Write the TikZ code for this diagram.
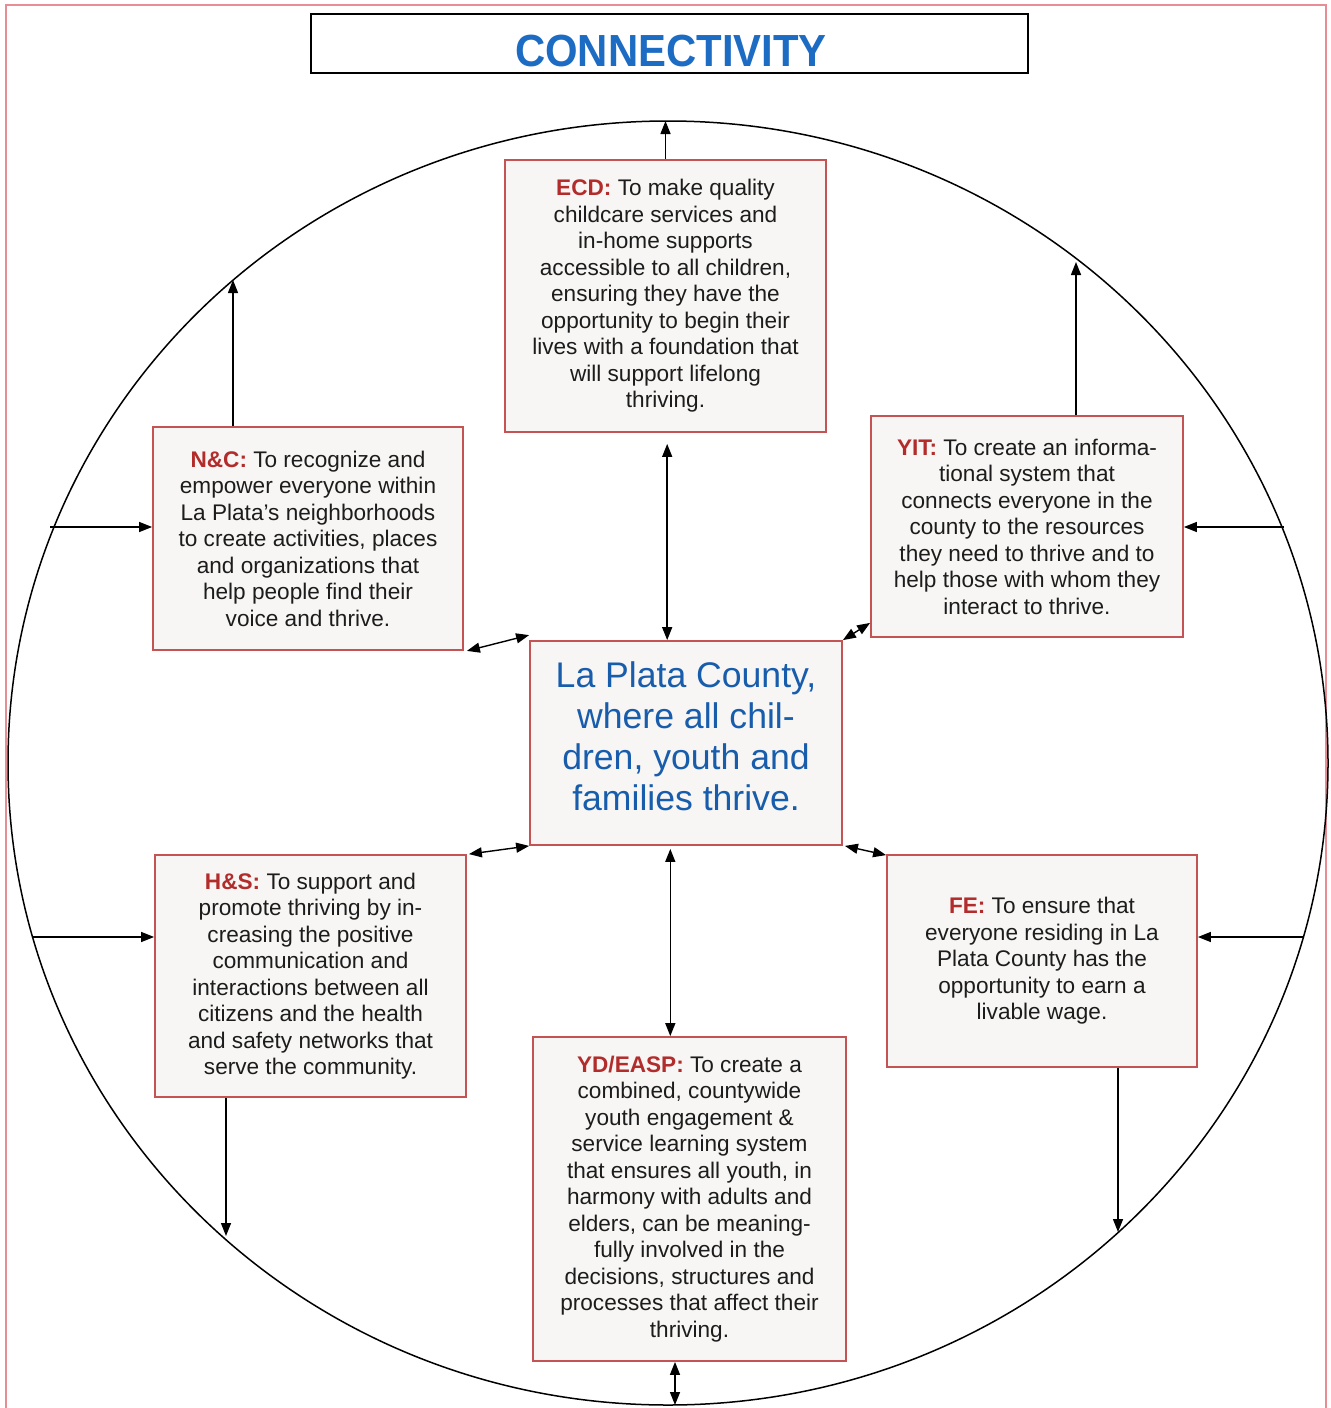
\documentclass[tikz,border=0pt]{standalone}
\usepackage{fontspec}
\setmainfont{Liberation Sans}
\usetikzlibrary{arrows.meta,calc}
\definecolor{boxred}{RGB}{196,84,84}
\definecolor{labred}{RGB}{178,44,44}
\definecolor{boxfill}{RGB}{247,246,244}
\definecolor{ctrblue}{RGB}{24,92,172}
\definecolor{ttlblue}{RGB}{28,108,196}
\definecolor{pinkb}{RGB}{232,140,150}
\definecolor{txt}{RGB}{28,28,28}
\newcommand{\lab}[1]{\textcolor{labred}{\textbf{#1}}}
\tikzset{
  box/.style={draw=boxred, line width=0.9pt, fill=boxfill, align=center, inner sep=0pt,
    text=txt, font=\fontsize{11.3}{13.25}\selectfont},
  arr/.style={-{Triangle[length=6.5pt,width=5pt]}, line width=0.7pt},
  darr/.style={{Triangle[length=6.5pt,width=5pt]}-{Triangle[length=6.5pt,width=5pt]}, line width=0.7pt},
}
\begin{document}
\begin{tikzpicture}[x=0.5pt,y=-0.5pt]
\useasboundingbox (0,0) rectangle (1330,1408);
\fill[white] (0,0) rectangle (1330,1408);
% outer pink frame
\draw[pinkb, line width=1pt] (6,1408) -- (6,5) -- (1326,5) -- (1326,1408);
% title
\node[draw=black, line width=1pt, minimum width=358.5pt, minimum height=29.5pt, inner sep=0pt]
  (title) at (669.5,43.5) {};
\node[inner sep=0pt] (titletext) at (671,51) {\scalebox{0.93}[1]{\textcolor{ttlblue}{\fontsize{22.5}{24}\selectfont\textbf{CONNECTIVITY}}}};
% big circle
\draw[line width=0.75pt] (668,763) ellipse [x radius=660, y radius=642];
% circle coordinates
\coordinate (cTop) at (665,121);
\coordinate (cNC) at (233,280);
\coordinate (cYIT) at (1076,262);
\coordinate (cL1) at (50,527);
\coordinate (cR1) at (1284,527);
\coordinate (cL2) at (33,937);
\coordinate (cR2) at (1304,937);
\coordinate (cHS) at (226,1236);
\coordinate (cFE) at (1118,1232);
\coordinate (cBot) at (675,1405);
% boxes
\node[box, minimum width=160.5pt, minimum height=136pt] (ecd) at (665.5,296) {%
\lab{ECD:} To make quality\\ childcare services and\\ in-home supports\\ accessible to all children,\\ ensuring they have the\\ opportunity to begin their\\ lives with a foundation that\\ will support lifelong\\ thriving.};
\node[box, minimum width=155pt, minimum height=111.5pt] (nc) at (308,538.5) {%
\lab{N\&C:} To recognize and\\ empower everyone within\\ La Plata's neighborhoods\\ to create activities, places\\ and organizations that\\ help people find their\\ voice and thrive.};
\node[box, minimum width=156pt, minimum height=110.5pt] (yit) at (1027,526.5) {%
\lab{YIT:} To create an informa-\\ tional system that\\ connects everyone in the\\ county to the resources\\ they need to thrive and to\\ help those with whom they\\ interact to thrive.};
\node[box, minimum width=156pt, minimum height=102pt] (ctr) at (686,743) {};
\node[align=center, inner sep=0pt, text=ctrblue, font=\fontsize{17.8}{20.5}\selectfont]
  (ctrtext) at (686,736) {La Plata County,\\ where all chil-\\ dren, youth and\\ families thrive.};
\node[box, minimum width=155.5pt, minimum height=121pt] (hs) at (310.5,976) {%
\lab{H\&S:} To support and\\ promote thriving by in-\\ creasing the positive\\ communication and\\ interactions between all\\ citizens and the health\\ and safety networks that\\ serve the community.};
\node[box, minimum width=155pt, minimum height=106pt] (fe) at (1042,961) {%
\lab{FE:} To ensure that\\ everyone residing in La\\ Plata County has the\\ opportunity to earn a\\ livable wage.};
\node[box, minimum width=156.5pt, minimum height=162pt] (yd) at (689.5,1199) {%
\lab{YD/EASP:} To create a\\ combined, countywide\\ youth engagement \&\\ service learning system\\ that ensures all youth, in\\ harmony with adults and\\ elders, can be meaning-\\ fully involved in the\\ decisions, structures and\\ processes that affect their\\ thriving.};
% outward arrows to circle
\draw[arr] (ecd.north) -- (ecd.north |- cTop);
\draw[arr] (nc.north -| cNC) -- (cNC);
\draw[arr] (yit.north -| cYIT) -- (cYIT);
\draw[arr] (hs.south -| cHS) -- (cHS);
\draw[arr] (fe.south -| cFE) -- (cFE);
\draw[darr] (yd.south -| cBot) -- (cBot);
% inward arrows from circle
\draw[arr] (cL1) -- (cL1 -| nc.west);
\draw[arr] (cR1) -- (cR1 -| yit.east);
\draw[arr] (cL2) -- (cL2 -| hs.west);
\draw[arr] (cR2) -- (cR2 -| fe.east);
% links to centre
\coordinate (ctrTop) at ($(ctr.north west)!0.44!(ctr.north east)$);
\coordinate (ctrBot) at ($(ctr.south west)!0.45!(ctr.south east)$);
\draw[darr] ([yshift=-5.5pt]ecd.south -| ctrTop) -- (ctrTop);
\draw[darr] ([yshift=-1.5pt]ctrBot) -- (ctrBot |- yd.north);
\draw[darr] ([xshift=1.5pt]nc.south east) -- ([yshift=2.5pt]ctr.north west);
\draw[darr] (ctr.north east) -- ([yshift=7.5pt]yit.south west);
\draw[darr] ([xshift=1pt]hs.north east) -- (ctr.south west);
\draw[darr] ([yshift=-0.5pt]fe.north west) -- ([xshift=1pt]ctr.south east);
\end{tikzpicture}
\end{document}
